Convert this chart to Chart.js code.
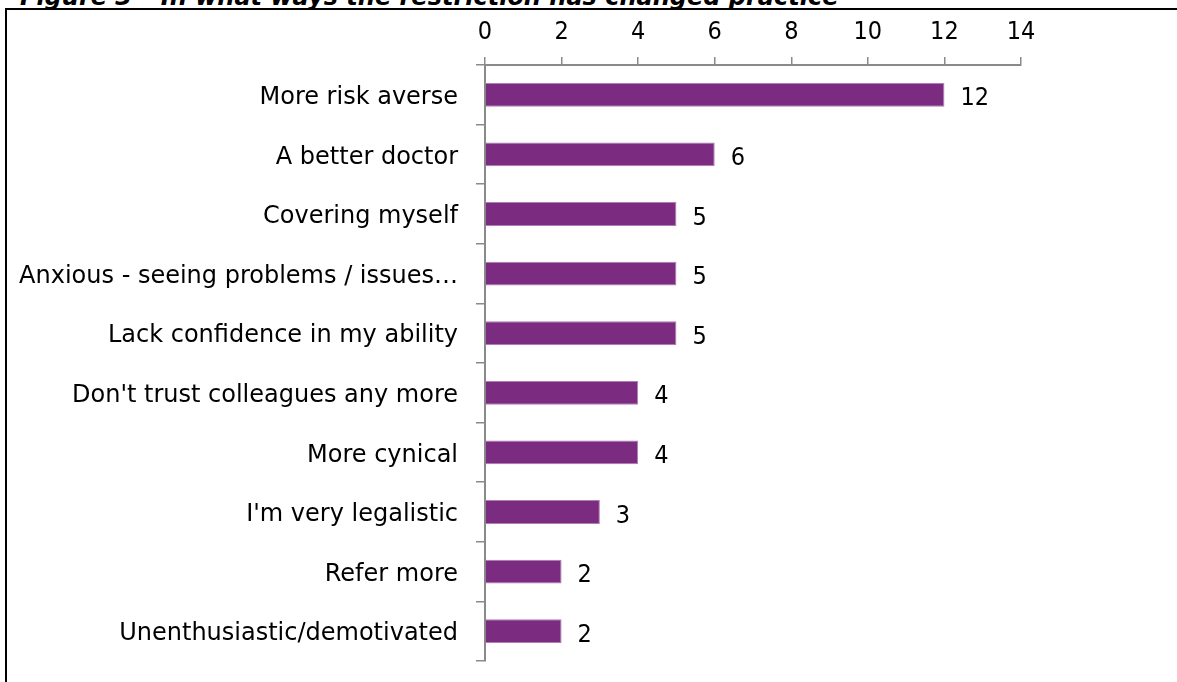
<!DOCTYPE html>
<html>
<head>
<meta charset="utf-8">
<script src="https://cdn.jsdelivr.net/npm/chart.js@4/dist/chart.umd.min.js"></script>
<style>
  html, body { margin: 0; padding: 0; background: #fff; overflow: hidden; }
  #wrap { position: relative; width: 1177px; height: 682px; }
  #title {
    position: absolute; left: 20px; top: -17px; white-space: nowrap;
    font: italic bold 24px/28px "DejaVu Sans", sans-serif; color: #000;
  }
  #frameTop { position: absolute; left: 5px; top: 8px; width: 1172px; height: 0; border-top: 2px solid #000; }
  #frameLeft { position: absolute; left: 5px; top: 8px; width: 0; height: 680px; border-left: 2px solid #000; }
  #chartBox { position: absolute; left: 0; top: 0; width: 1177px; height: 682px; }
</style>
</head>
<body>
<div id="wrap">
  <div id="title">Figure 3 – In what ways the restriction has changed practice</div>
  <div id="frameTop"></div>
  <div id="frameLeft"></div>
  <div id="chartBox"><canvas id="c" width="1177" height="682"></canvas></div>
</div>
<script>
// Ways in which practice has changed since the restriction
const categories = [
  "More risk averse",
  "A better doctor",
  "Covering myself",
  "Anxious - seeing problems / issues…",
  "Lack confidence in my ability",
  "Don't trust colleagues any more",
  "More cynical",
  "I'm very legalistic",
  "Refer more",
  "Unenthusiastic/demotivated"
];
const responses = [12, 6, 5, 5, 5, 4, 4, 3, 2, 2];
const axisMin = 0;
const axisMax = 14;
const axisStep = 2;

const LABEL_FONT = "'DejaVu Sans', sans-serif";
const NUM_FONT = "'DejaVu Sans Condensed', 'DejaVu Sans', sans-serif";
const AXIS_GREY = '#8a8a8a';

// Writes each bar's value just past its end
const valueLabels = {
  id: 'valueLabels',
  afterDatasetsDraw(chart) {
    const ctx = chart.ctx;
    const meta = chart.getDatasetMeta(0);
    ctx.save();
    ctx.font = '25px ' + NUM_FONT;
    ctx.fillStyle = '#000';
    ctx.textAlign = 'left';
    ctx.textBaseline = 'middle';
    meta.data.forEach((bar, i) => {
      ctx.fillText(String(chart.data.datasets[0].data[i]), bar.x + 16, bar.y + 4);
    });
    ctx.restore();
  }
};

new Chart(document.getElementById('c'), {
  type: 'bar',
  data: {
    labels: categories,
    datasets: [{
      data: responses,
      backgroundColor: '#7b2b80',
      borderColor: '#b07cb4',
      borderWidth: 1,
      borderSkipped: 'start',
      categoryPercentage: 1.0,
      barPercentage: 0.4
    }]
  },
  options: {
    indexAxis: 'y',
    responsive: false,
    animation: false,
    layout: { padding: { top: 0, right: 156, bottom: 21, left: 0 } },
    plugins: { legend: { display: false }, tooltip: { enabled: false } },
    scales: {
      x: {
        position: 'top',
        min: axisMin,
        max: axisMax,
        ticks: {
          stepSize: axisStep,
          color: '#000',
          font: { family: NUM_FONT, size: 25 },
          padding: 10
        },
        grid: {
          drawOnChartArea: false,
          drawTicks: true,
          tickLength: 8,
          color: AXIS_GREY,
          lineWidth: 1.5
        },
        border: { display: true, color: AXIS_GREY, width: 2 },
        afterFit(scale) { scale.height = 65; }
      },
      y: {
        ticks: {
          color: '#000',
          font: { family: LABEL_FONT, size: 24 },
          padding: 18,
          labelOffset: 3,
          autoSkip: false
        },
        grid: {
          offset: true,
          drawOnChartArea: false,
          drawTicks: true,
          tickLength: 9,
          color: AXIS_GREY,
          lineWidth: 1.5
        },
        border: { display: true, color: AXIS_GREY, width: 2 },
        afterFit(scale) {
          scale.width = 485;
          scale.paddingTop = 0;
          scale.paddingBottom = 0;
        }
      }
    }
  },
  plugins: [valueLabels]
});
</script>
</body>
</html>
